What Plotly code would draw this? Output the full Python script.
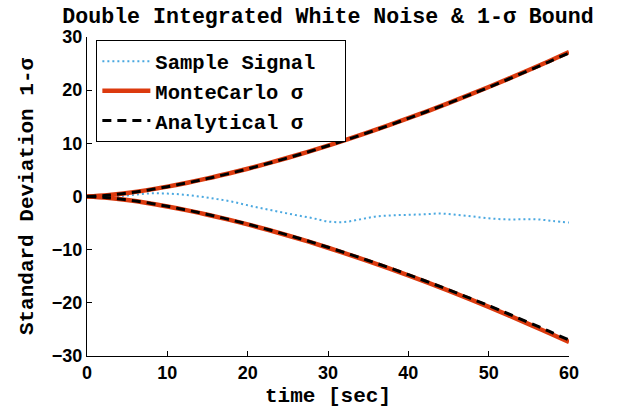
import plotly.graph_objects as go

# ---- data ----
t_sigma = [0, 2.5, 5, 7.5, 10, 12.5, 15, 17.5, 20, 22.5, 25, 27.5, 30,
           32.5, 35, 37.5, 40, 42.5, 45, 47.5, 50, 52.5, 55, 57.5, 60]
analytical_sigma = [0, 0.23, 0.65, 1.19, 1.84, 2.57, 3.38, 4.25, 5.20, 6.20, 7.26, 8.38, 9.55,
                    10.76, 12.03, 13.34, 14.70, 16.10, 17.54, 19.02, 20.54, 22.10, 23.70, 25.33, 27.0]
mc_sigma_upper = [0, 0.24, 0.66, 1.20, 1.86, 2.60, 3.40, 4.28, 5.22, 6.22, 7.28, 8.40, 9.58,
                  10.80, 12.05, 13.36, 14.72, 16.12, 17.57, 19.06, 20.60, 22.18, 23.80, 25.45, 27.15]
mc_sigma_lower = [0, -0.24, -0.66, -1.21, -1.87, -2.61, -3.42, -4.30, -5.25, -6.26, -7.33, -8.45, -9.64,
                  -10.87, -12.14, -13.46, -14.83, -16.25, -17.71, -19.22, -20.77, -22.37, -24.00, -25.67, -27.35]

t_sample = [0, 2, 4, 6, 8, 10, 12, 14, 16, 18, 20, 22, 24, 26, 28, 30,
            32, 34, 36, 38, 40, 42, 44, 46, 48, 50, 52, 54, 56, 58, 60]
sample_signal = [0, 0.0, 0.05, 0.35, 0.6, 0.55, 0.35, 0.0, -0.45, -0.95, -1.65, -2.3, -2.9, -3.5, -4.05, -4.7,
                 -4.8, -4.3, -3.75, -3.55, -3.45, -3.35, -3.2, -3.45, -3.75, -4.1, -4.3, -4.3, -4.3, -4.6, -4.9]

x_ticks = [0, 10, 20, 30, 40, 50, 60]
y_ticks = [-30, -20, -10, 0, 10, 20, 30]

BLUE = "#4aa8e0"
RED = "#dc3a0e"
MONO = "Liberation Mono, Courier New, monospace"
SANS = "Liberation Sans, Arial, sans-serif"
PAD = "\u00a0\u00a0"

fig = go.Figure()
fig.add_trace(go.Scatter(x=t_sample, y=sample_signal, mode="lines", name="Sample Signal" + PAD,
                         line=dict(color=BLUE, width=2, dash="2px,3px", shape="spline")))
fig.add_trace(go.Scatter(x=t_sigma, y=mc_sigma_upper, mode="lines", name="MonteCarlo σ",
                         legendgroup="mc", line=dict(color=RED, width=4.5, shape="spline")))
fig.add_trace(go.Scatter(x=t_sigma, y=mc_sigma_lower, mode="lines", name="MonteCarlo σ",
                         legendgroup="mc", showlegend=False,
                         line=dict(color=RED, width=4.5, shape="spline")))
fig.add_trace(go.Scatter(x=t_sigma, y=analytical_sigma, mode="lines", name="Analytical σ",
                         legendgroup="an", line=dict(color="black", width=3, dash="9px,6px", shape="spline")))
fig.add_trace(go.Scatter(x=t_sigma, y=[-v for v in analytical_sigma], mode="lines", name="Analytical σ",
                         legendgroup="an", showlegend=False,
                         line=dict(color="black", width=3, dash="9px,6px", shape="spline")))

fig.update_layout(
    width=620, height=409,
    margin=dict(l=87, r=51, t=37, b=53, autoexpand=False),
    paper_bgcolor="white", plot_bgcolor="white",
    title=dict(text="Double Integrated White Noise & 1-σ Bound", x=0.529, xanchor="center",
               y=1 - 15 / 409, yanchor="middle", yref="container",
               font=dict(family=MONO, size=21.6, color="black", weight="bold")),
    showlegend=True,
    legend=dict(x=0.019, y=0.99, xanchor="left", yanchor="top",
                bordercolor="black", borderwidth=1.2, bgcolor="white",
                font=dict(family=MONO, size=20.5, color="black", weight="bold"),
                tracegroupgap=0, itemwidth=48),
    xaxis=dict(range=[0, 60], tickvals=x_ticks, ticks="inside", ticklen=5, tickcolor="black",
               showline=True, linecolor="black", linewidth=1, showgrid=False, zeroline=False,
               automargin=False,
               tickfont=dict(family=SANS, size=18, color="black", weight="bold"),
               title=dict(text="time [sec]", standoff=5,
                          font=dict(family=MONO, size=21, color="black", weight="bold"))),
    yaxis=dict(range=[-30, 30], tickvals=y_ticks, ticks="inside", ticklen=5, tickcolor="black",
               showline=True, linecolor="black", linewidth=1, showgrid=False, zeroline=False,
               automargin=False,
               tickfont=dict(family=SANS, size=18, color="black", weight="bold"),
               title=dict(text="Standard Deviation 1-σ", standoff=12,
                          font=dict(family=MONO, size=21, color="black", weight="bold"))),
)

fig.write_html("out.html")
